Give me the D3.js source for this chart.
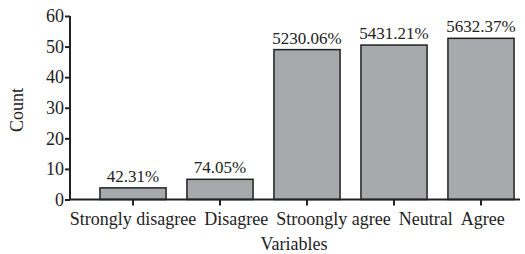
<!DOCTYPE html>
<html>
<head>
<meta charset="utf-8">
<script src="https://cdn.jsdelivr.net/npm/d3@7"></script>
<style>
  body { margin: 0; background: #fff; }
  text { font-family: "Liberation Serif", "Times New Roman", serif; fill: #222; }
</style>
</head>
<body>
<div id="graph"></div>
<script>
// categories and bar heights as drawn
const categories = ["Strongly disagree", "Disagree", "Stroongly agree", "Neutral", "Agree"];
const counts = [3.8, 6.6, 49, 50.5, 52.7];
const barLabels = ["42.31%", "74.05%", "5230.06%", "5431.21%", "5632.37%"];
const yTicks = [0, 10, 20, 30, 40, 50, 60];

const width = 525, height = 254;
const svg = d3.select("#graph").append("svg")
  .attr("width", width)
  .attr("height", height);

const x = d3.scaleBand()
  .domain(categories)
  .range([89.5, 524.5])
  .paddingInner(0.24)
  .paddingOuter(0.12);

const y = d3.scaleLinear()
  .domain([0, 60])
  .range([199.5, 16]);

// bars
svg.selectAll("rect.bar")
  .data(categories)
  .enter()
  .append("rect")
  .attr("class", "bar")
  .attr("x", d => x(d))
  .attr("y", (d, i) => y(counts[i]))
  .attr("width", x.bandwidth())
  .attr("height", (d, i) => y(0) - y(counts[i]))
  .attr("fill", "#a8a9ac")
  .attr("stroke", "#222")
  .attr("stroke-width", 1.5);

// value labels
svg.selectAll("text.lbl")
  .data(categories)
  .enter()
  .append("text")
  .attr("class", "lbl")
  .attr("x", d => x(d) + x.bandwidth() / 2)
  .attr("y", (d, i) => y(counts[i]) - 6)
  .attr("text-anchor", "middle")
  .style("font-size", "17px")
  .text((d, i) => barLabels[i]);

// y axis
const yAxis = svg.append("g")
  .attr("transform", "translate(70,0)")
  .call(d3.axisLeft(y).tickValues(yTicks).tickSize(5).tickPadding(1));
yAxis.select(".domain").attr("stroke", "#222").attr("stroke-width", 2)
  .attr("d", "M0," + y(60) + "V" + y(0));
yAxis.selectAll(".tick line").attr("stroke", "#222").attr("stroke-width", 2);
yAxis.selectAll(".tick text").style("font-size", "18px").attr("fill", "#222")
  .style("font-family", "Liberation Serif, serif");

// x axis
const xAxis = svg.append("g")
  .attr("transform", "translate(0," + y(0) + ")")
  .call(d3.axisBottom(x).tickSize(6).tickPadding(7));
xAxis.select(".domain").attr("stroke", "#222").attr("stroke-width", 2)
  .attr("d", "M69,0H520");
xAxis.selectAll(".tick line").attr("stroke", "#222").attr("stroke-width", 2);
xAxis.selectAll(".tick text").style("font-size", "18px").attr("fill", "#222")
  .style("font-family", "Liberation Serif, serif");

// long labels collide, so push each one right of the previous one
let prevEnd = -Infinity;
xAxis.selectAll(".tick").each(function (d) {
  const t = d3.select(this).select("text");
  const center = x(d) + x.bandwidth() / 2;
  const w = t.node().getComputedTextLength();
  let start = Math.max(center - w / 2, prevEnd + 8);
  t.attr("text-anchor", "start").attr("x", start - center);
  prevEnd = start + w;
});

// axis titles
svg.append("text")
  .attr("transform", "translate(23,110)rotate(-90)")
  .attr("text-anchor", "middle")
  .style("font-size", "18px")
  .text("Count");

svg.append("text")
  .attr("x", 294)
  .attr("y", 250)
  .attr("text-anchor", "middle")
  .style("font-size", "18px")
  .text("Variables");
</script>
</body>
</html>
